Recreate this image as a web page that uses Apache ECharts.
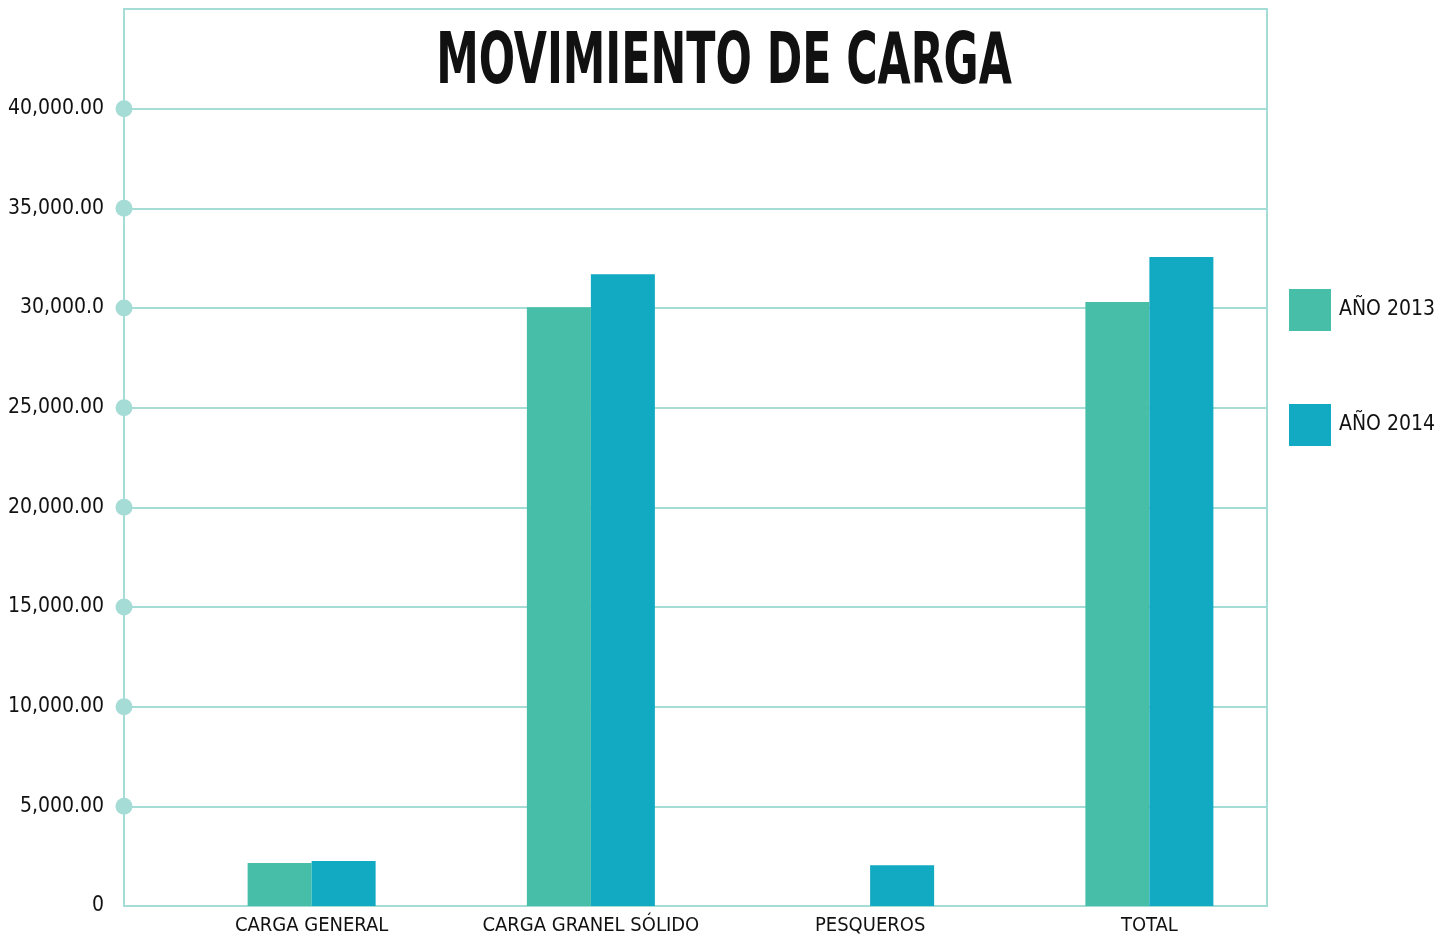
<!DOCTYPE html>
<html>
<head>
<meta charset="utf-8">
<title>Movimiento de carga</title>
<script src="https://cdn.jsdelivr.net/npm/echarts@6/dist/echarts.min.js"></script>
<style>
  html, body { margin: 0; padding: 0; background: #fff; }
  #chart { width: 1447px; height: 938px; }
</style>
</head>
<body>
<div id="chart"></div>
<script>
// datos
var categorias = ['CARGA GENERAL', 'CARGA GRANEL SÓLIDO', 'PESQUEROS', 'TOTAL'];
var anio2013 = [2160, 30040, null, 30300];
var anio2014 = [2260, 31690, 2050, 32560];
var ticksEje = [5000, 10000, 15000, 20000, 25000, 30000, 35000, 40000];

var fuente = "'DejaVu Sans Condensed', 'Liberation Sans Narrow', 'Roboto', sans-serif";
var colorMarco = '#a6dcd6';

var chart = echarts.init(document.getElementById('chart'));

var option = {
    backgroundColor: '#fff',
    textStyle: { fontFamily: fuente },
    // titulo como texto grafico para poder estrecharlo
    graphic: [{
        type: 'text',
        x: 724,
        y: 64,
        scaleX: 0.66,
        style: {
            text: 'MOVIMIENTO DE CARGA',
            font: "bold 72px " + fuente,
            fill: '#111',
            textAlign: 'center',
            textVerticalAlign: 'middle'
        }
    }],
    legend: {
        orient: 'vertical',
        left: 1284,
        top: 284,
        itemWidth: 42,
        itemHeight: 42,
        itemGap: 73,
        icon: 'rect',
        data: ['AÑO 2013', 'AÑO 2014'],
        textStyle: { fontFamily: fuente, fontSize: 21, color: '#111', padding: [0, 0, 0, 3] }
    },
    color: ['#47bfa8', '#12a9c2'],
    grid: [
        // marco con eje y
        { left: 124, right: 180, top: 9, bottom: 32, outerBoundsMode: 'none', show: true, borderColor: colorMarco, borderWidth: 2 },
        // barras
        { left: 172, right: 158, top: 9, bottom: 32, outerBoundsMode: 'none' }
    ],
    xAxis: [
        { type: 'value', gridIndex: 0, min: 0, max: 1, show: false },
        {
            type: 'category', gridIndex: 1, data: categorias,
            axisLine: { show: false }, axisTick: { show: false },
            axisLabel: { interval: 0, margin: 10, fontFamily: fuente, fontSize: 20, color: '#111' }
        }
    ],
    yAxis: [
        {
            type: 'value', gridIndex: 0, min: 0, max: 45000, interval: 5000,
            axisLine: { show: true, lineStyle: { color: colorMarco, width: 2 } },
            axisTick: { show: false },
            splitLine: { lineStyle: { color: colorMarco, width: 2 } },
            axisLabel: {
                margin: 20, fontFamily: fuente, fontSize: 21, color: '#111',
                formatter: function (v) {
                    if (v === 45000) return '';
                    if (v === 0) return '0';
                    if (v === 30000) return '30,000.0';
                    return v.toLocaleString('en-US', { minimumFractionDigits: 2 });
                }
            }
        },
        { type: 'value', gridIndex: 1, min: 0, max: 45000, show: false }
    ],
    series: [
        {
            name: 'puntos', type: 'scatter', xAxisIndex: 0, yAxisIndex: 0,
            data: ticksEje.map(function (t) { return [0, t]; }),
            symbolSize: 17, clip: false, silent: true,
            itemStyle: { color: colorMarco, opacity: 1 }, z: 3
        },
        {
            name: 'AÑO 2013', type: 'bar', xAxisIndex: 1, yAxisIndex: 1,
            data: anio2013, barWidth: 64, barGap: '0%'
        },
        {
            name: 'AÑO 2014', type: 'bar', xAxisIndex: 1, yAxisIndex: 1,
            data: anio2014, barWidth: 64, barGap: '0%'
        }
    ]
};

chart.setOption(option);
window.addEventListener('resize', chart.resize);
</script>
</body>
</html>
